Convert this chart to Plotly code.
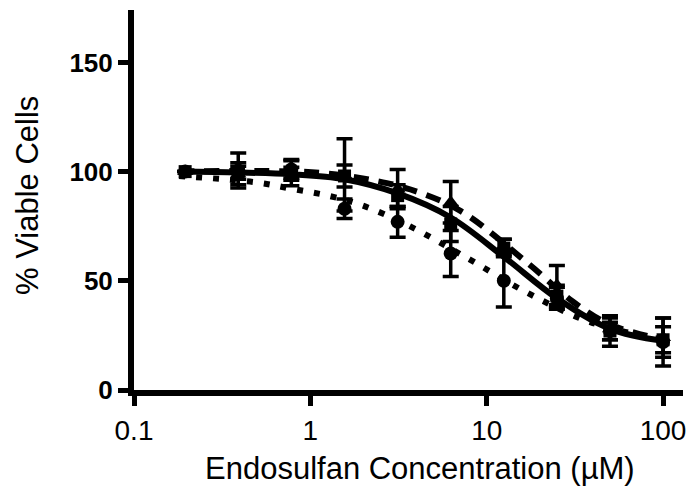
import plotly.graph_objects as go

# Concentrations (µM)
conc = [0.195, 0.39, 0.78, 1.5625, 3.125, 6.25, 12.5, 25, 50, 100]

# Mean % viable and SD for each series
sq_y = [100, 99.5, 99, 98, 89, 76, 65, 43, 27, 23]
sq_err = [0, 3, 3, 5, 5, 8, 4, 5, 4, 6]
ci_y = [100, 100.5, 101, 83, 77, 62.5, 50, 42, 27, 22]
ci_err = [0, 8, 4, 4.5, 7, 10.5, 12, 5, 7, 11]
tr_y = [100, 99, 99.5, 98.5, 92, 86, 66, 48, 28, 24]
tr_err = [0, 5, 6, 16.5, 9, 9.5, 3, 9, 5, 9]

# Fitted curves
solid_x = [0.18, 0.39, 0.78, 1.5625, 3.125, 6.25, 12.5, 25, 50, 100]
solid_y = [100, 99.6, 98.8, 96.5, 90, 79, 61, 42, 28, 22.5]
dot_x = [0.18, 0.5, 0.8, 1.26, 1.94, 3.56, 7.8, 17, 39, 100]
dot_y = [98, 95, 92, 89, 84.7, 75.5, 60.3, 44.5, 31, 23]
dash_x = [0.18, 0.5, 1.15, 2.4, 3.7, 7.1, 17.3, 31, 50, 100]
dash_y = [100, 100.3, 99.4, 95.6, 91.8, 82, 57.7, 40.3, 30, 23]

y_ticks = [0, 50, 100, 150]
x_ticks = [0.1, 1, 10, 100]
x_labels = ["0.1", "1", "10", "100"]

fig = go.Figure()
black = "#000000"

fig.add_trace(go.Scatter(x=dot_x, y=dot_y, mode="lines", line=dict(color=black, width=6, dash="6px,11px", shape="spline")))
fig.add_trace(go.Scatter(x=dash_x, y=dash_y, mode="lines", line=dict(color=black, width=6, dash="15px,10px", shape="spline")))
fig.add_trace(go.Scatter(x=solid_x, y=solid_y, mode="lines", line=dict(color=black, width=6, shape="spline")))

def pts(y, e, sym, size):
    return go.Scatter(
        x=conc, y=y, mode="markers",
        marker=dict(symbol=sym, size=size, color=black),
        error_y=dict(type="data", array=e, color=black, thickness=3.5, width=8),
    )

fig.add_trace(pts(ci_y, ci_err, "circle", 14))
fig.add_trace(pts(tr_y, tr_err, "triangle-up", 14))
fig.add_trace(pts(sq_y, sq_err, "square", 13))

font = "Liberation Sans, Arial, sans-serif"
L, R, T, B = 134, 16, 10, 103
W, H = 699, 493
pw, ph = W - L - R, H - T - B

fig.update_layout(
    width=W, height=H,
    margin=dict(l=L, r=R, t=T, b=B),
    plot_bgcolor="white", paper_bgcolor="white",
    showlegend=False,
    font=dict(family=font, color=black),
    xaxis=dict(
        type="log", range=[-1, 2.113],
        tickvals=x_ticks, ticktext=x_labels,
        ticks="outside", ticklen=10, tickwidth=5, tickcolor=black,
        showline=True, linewidth=6, linecolor=black,
        showgrid=False, zeroline=False,
        tickfont=dict(size=28, family=font),
    ),
    yaxis=dict(
        range=[0, 174],
        tickvals=y_ticks,
        ticks="outside", ticklen=10, tickwidth=5, tickcolor=black,
        showline=True, linewidth=6, linecolor=black,
        showgrid=False, zeroline=False,
        tickfont=dict(size=26, family=font, weight="bold"),
    ),
    annotations=[
        dict(text="Endosulfan Concentration (µM)", xref="paper", yref="paper",
             x=(420 - L) / pw, y=(H - B - 468) / ph, xanchor="center", yanchor="middle",
             showarrow=False, font=dict(size=31, family=font, color=black)),
        dict(text="% Viable Cells", xref="paper", yref="paper",
             x=(27 - L) / pw, y=(H - B - 196) / ph, xanchor="center", yanchor="middle",
             textangle=-90, showarrow=False, font=dict(size=31, family=font, color=black)),
    ],
)

fig.write_html("out.html")
